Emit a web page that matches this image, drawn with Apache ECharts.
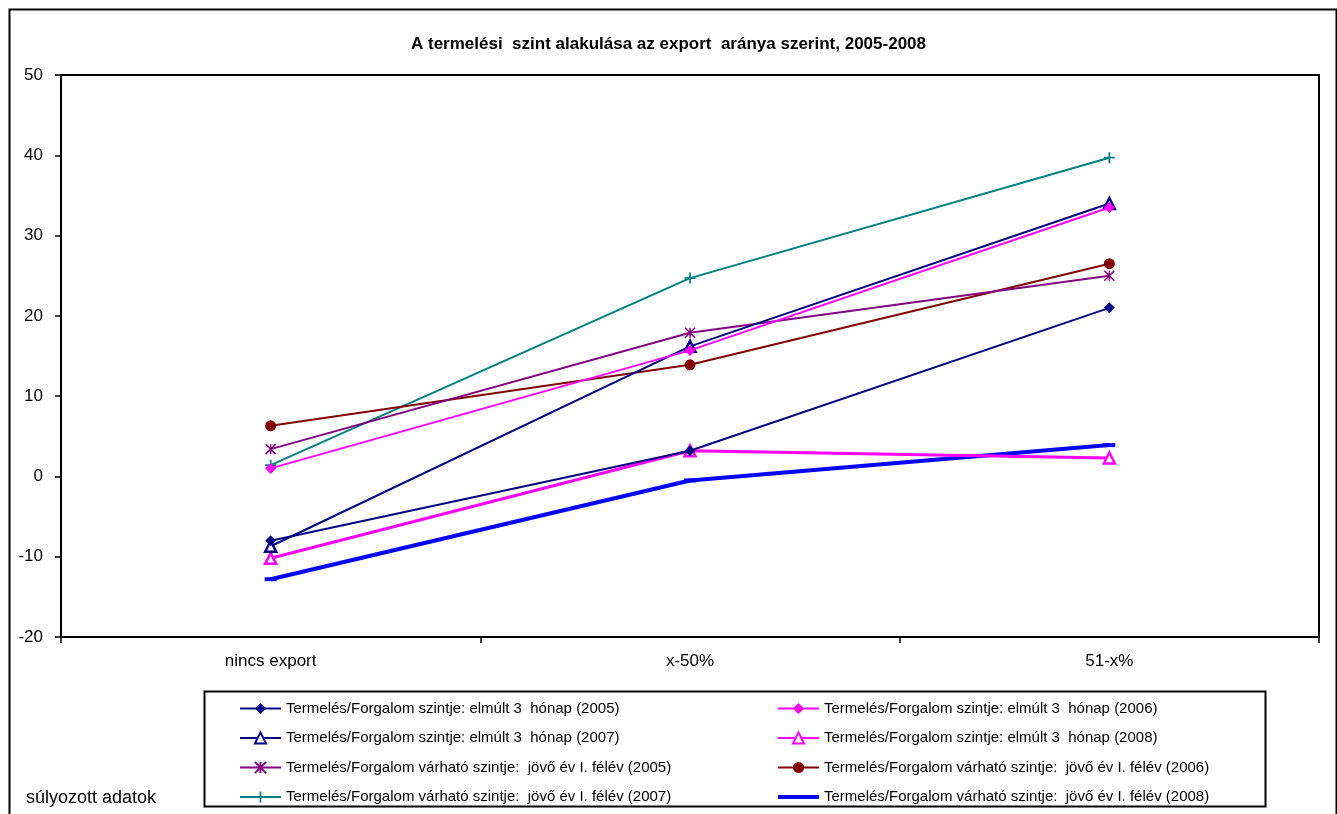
<!DOCTYPE html>
<html><head><meta charset="utf-8">
<script src="https://cdn.jsdelivr.net/npm/echarts@6/dist/echarts.min.js"></script>
<style>html,body{margin:0;padding:0;background:#fff}#c{width:1337px;height:814px}</style>
</head><body><div id="c"></div>
<script>
const categories = ['nincs export', 'x-50%', '51-x%'];
const seriesNames = [
  'Termelés/Forgalom szintje: elmúlt 3  hónap (2005)',
  'Termelés/Forgalom szintje: elmúlt 3  hónap (2006)',
  'Termelés/Forgalom szintje: elmúlt 3  hónap (2007)',
  'Termelés/Forgalom szintje: elmúlt 3  hónap (2008)',
  'Termelés/Forgalom várható szintje:  jövő év I. félév (2005)',
  'Termelés/Forgalom várható szintje:  jövő év I. félév (2006)',
  'Termelés/Forgalom várható szintje:  jövő év I. félév (2007)',
  'Termelés/Forgalom várható szintje:  jövő év I. félév (2008)'
];
const past2005 = [-8.0, 3.2, 21.0];
const past2006 = [1.0, 15.7, 33.5];
const past2007 = [-8.7, 16.2, 34.0];
const past2008 = [-10.2, 3.2, 2.3];
const exp2005 = [3.4, 17.9, 25.0];
const exp2006 = [6.3, 13.9, 26.5];
const exp2007 = [1.4, 24.7, 39.7];
const exp2008 = [-12.8, -0.5, 3.9];
const yTicks = {min: -20, max: 50, interval: 10};

const star = 'path://M0,0L10,10M10,0L0,10M5,0L5,10';
const plus = 'path://M4.2,0h1.6v4.2h4.2v1.6h-4.2v4.2h-1.6v-4.2h-4.2v-1.6h4.2z';
const dash = 'path://M0,0h12v4h-12z';

function mk(i, data, color, symbol, size, width, extra) {
  return Object.assign({
    name: seriesNames[i], type: 'line', data: data,
    symbol: symbol, symbolSize: size, showSymbol: true,
    lineStyle: {color: color, width: width},
    itemStyle: {color: color},
    emphasis: {disabled: true}, animation: false, z: 10 - i
  }, extra || {});
}

const series = [
  mk(0, past2005, '#000080', 'diamond', 11, 2),
  mk(1, past2006, '#FF00FF', 'diamond', 11, 2),
  mk(2, past2007, '#000080', 'triangle', 11, 2, {itemStyle: {color: '#fff', borderColor: '#000080', borderWidth: 2.5}}),
  mk(3, past2008, '#FF00FF', 'triangle', 11, 3, {itemStyle: {color: '#fff', borderColor: '#FF00FF', borderWidth: 2.5}}),
  mk(4, exp2005, '#800080', star, 10, 2, {itemStyle: {color: '#800080', borderColor: '#800080', borderWidth: 1.5}}),
  mk(5, exp2006, '#800000', 'circle', 11, 2),
  mk(6, exp2007, '#008080', plus, 11, 2),
  mk(7, exp2008, '#0000FF', dash, 12, 4, {symbolKeepAspect: true})
];

const ff = 'Liberation Sans, Arial';
const legendText = {fontFamily: ff, fontSize: 15, color: '#000'};
const chart = echarts.init(document.getElementById('c'), null, {renderer: 'canvas'});
chart.setOption({
  backgroundColor: '#fff',
  animation: false,
  title: {
    text: 'A termelési  szint alakulása az export  aránya szerint, 2005-2008',
    left: 'center', top: 31,
    textStyle: {fontFamily: ff, fontSize: 17, fontWeight: 'bold', color: '#000'}
  },
  grid: {left: 61, top: 75, right: 18, bottom: 177, show: true, borderColor: '#000', borderWidth: 2, backgroundColor: 'transparent'},
  xAxis: {
    type: 'category', data: categories, boundaryGap: true,
    axisLine: {onZero: false, lineStyle: {color: '#000', width: 2}},
    axisTick: {show: true, interval: 0, length: 6, lineStyle: {color: '#000', width: 1.5}},
    axisLabel: {margin: 16, fontFamily: ff, fontSize: 17, color: '#000'},
    splitLine: {show: false}
  },
  yAxis: {
    type: 'value', min: yTicks.min, max: yTicks.max, interval: yTicks.interval,
    axisLine: {show: true, lineStyle: {color: '#000', width: 2}},
    axisTick: {show: true, length: 6, lineStyle: {color: '#000', width: 1.5}},
    axisLabel: {margin: 18, fontFamily: ff, fontSize: 17, color: '#000'},
    splitLine: {show: false}
  },
  legend: [
    {data: [seriesNames[0], seriesNames[2], seriesNames[4], seriesNames[6]], orient: 'vertical', left: 234, top: 696,
     itemWidth: 41, itemHeight: 14, itemGap: 14.5, textStyle: legendText, selectedMode: false},
    {data: [seriesNames[1], seriesNames[3], seriesNames[5],
            {name: seriesNames[7], icon: 'path://M0,0h40v4h-40z'}], orient: 'vertical', left: 772, top: 696,
     itemWidth: 41, itemHeight: 14, itemGap: 14.5, textStyle: legendText, selectedMode: false}
  ],
  graphic: [
    {type: 'rect', left: 7, top: 7, shape: {width: 1327, height: 830}, style: {fill: 'none', stroke: '#000', lineWidth: 2}, silent: true},
    {type: 'rect', left: 202, top: 689, shape: {width: 1061, height: 115}, style: {fill: 'none', stroke: '#000', lineWidth: 2}, silent: true, z: -1},
    {type: 'text', left: 26, top: 789, style: {text: 'súlyozott adatok', font: '18px Liberation Sans, Arial', fill: '#000'}}
  ],
  series: series
});
</script></body></html>
